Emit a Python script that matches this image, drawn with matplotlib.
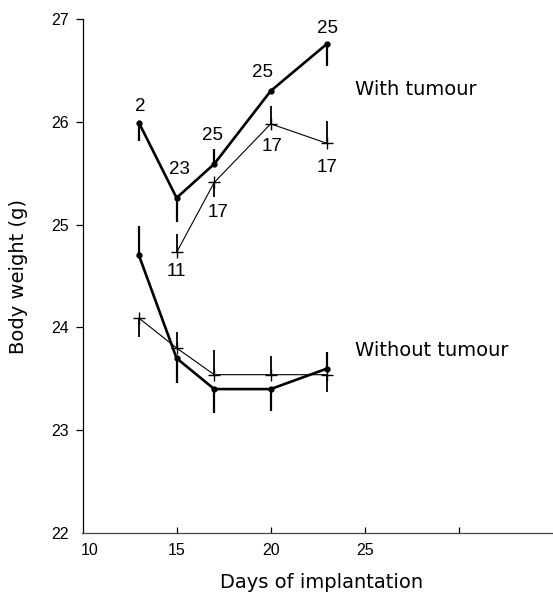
import matplotlib
matplotlib.use("Agg")
import matplotlib.pyplot as plt
from matplotlib.transforms import ScaledTranslation

# Days of implantation
days_with = [13, 15, 17, 20, 23]
days_thin_with = [15, 17, 20, 23]
days_without = [13, 15, 17, 20, 23]

# Body weight (g), thick line with dots
with_thick = [25.99, 25.26, 25.59, 26.30, 26.76]
with_thick_lo = [0.18, 0.23, 0.0, 0.0, 0.22]
with_thick_hi = [0.0, 0.0, 0.15, 0.0, 0.0]
with_thick_n = ["2", "23", "25", "25", "25"]

# Body weight (g), thin line with crosses
with_thin = [24.73, 25.41, 25.98, 25.79]
with_thin_lo = [0.0, 0.14, 0.0, 0.0]
with_thin_hi = [0.18, 0.0, 0.17, 0.22]
with_thin_n = ["11", "17", "17", "17"]

without_thick = [24.70, 23.70, 23.40, 23.40, 23.60]
without_thick_lo = [0.0, 0.24, 0.23, 0.21, 0.0]
without_thick_hi = [0.29, 0.0, 0.0, 0.0, 0.16]

without_thin = [24.09, 23.80, 23.54, 23.54, 23.54]
without_thin_lo = [0.18, 0.0, 0.0, 0.0, 0.17]
without_thin_hi = [0.0, 0.16, 0.24, 0.18, 0.0]

x_ticks = [10, 15, 20, 25, 30]
x_tick_labels = ["10", "15", "20", "25", ""]
y_ticks = [22, 23, 24, 25, 26, 27]

# label offsets in pixels (dx, dy)
with_thick_off = [(1, 16), (3, 28), (-2, 28), (-8, 18), (0, 15)]
with_thin_off = [(0, -19), (4, -30), (1, -23), (0, -24)]

NUM_FONT = ['Liberation Sans', 'DejaVu Sans']
WORD_FONT = ['DejaVu Sans']


def main():
    plt.rcParams['font.family'] = NUM_FONT

    fig = plt.figure(figsize=(5.53, 5.94), dpi=100)
    ax = fig.add_axes([82.5 / 553, 61 / 594, 470.5 / 553, 514 / 594])

    # thick lines
    ax.errorbar(days_with, with_thick, yerr=[with_thick_lo, with_thick_hi],
                color='black', lw=1.9, marker='o', ms=3.5, elinewidth=1.6,
                capsize=0)
    ax.errorbar(days_without, without_thick,
                yerr=[without_thick_lo, without_thick_hi],
                color='black', lw=1.9, marker='o', ms=3.5, elinewidth=1.6,
                capsize=0)

    # thin lines
    ax.errorbar(days_thin_with, with_thin, yerr=[with_thin_lo, with_thin_hi],
                color='black', lw=0.8, marker='+', ms=9, mew=1.0,
                elinewidth=1.3, capsize=0)
    ax.errorbar(days_without, without_thin,
                yerr=[without_thin_lo, without_thin_hi],
                color='black', lw=0.8, marker='+', ms=9, mew=1.0,
                elinewidth=1.3, capsize=0)

    # number of animals
    for d, v, n, off in zip(days_with, with_thick, with_thick_n, with_thick_off):
        ax.annotate(n, xy=(d, v), xytext=off, textcoords='offset pixels',
                    ha='center', va='center', fontsize=13.5)
    for d, v, n, off in zip(days_thin_with, with_thin, with_thin_n, with_thin_off):
        ax.annotate(n, xy=(d, v), xytext=off, textcoords='offset pixels',
                    ha='center', va='center', fontsize=13.5)

    ax.text(24.46, 26.31, "With tumour", fontsize=14, ha='left', va='center',
            family=WORD_FONT)
    ax.text(24.46, 23.78, "Without tumour", fontsize=14, ha='left', va='center',
            family=WORD_FONT)

    # axes
    ax.set_xlim(10, 35.0)
    ax.set_ylim(22, 27)
    ax.spines['top'].set_visible(False)
    ax.spines['right'].set_visible(False)
    ax.spines['left'].set_linewidth(0.9)
    ax.spines['bottom'].set_linewidth(0.9)
    ax.spines['bottom'].set_color('#444444')

    ax.set_xticks(x_ticks, x_tick_labels)
    ax.set_yticks(y_ticks)
    ax.tick_params(axis='x', direction='in', length=4, width=0.9, pad=7.5,
                   labelsize=11.5)
    ax.tick_params(axis='y', direction='out', length=5, width=0.9, pad=5,
                   labelsize=11.5)
    # no tick marks in the corner
    ax.yaxis.get_major_ticks()[0].tick1line.set_visible(False)
    ax.xaxis.get_major_ticks()[0].tick1line.set_visible(False)
    # first x label is set a little right of the corner
    lbl = ax.xaxis.get_major_ticks()[0].label1
    lbl.set_transform(lbl.get_transform() + ScaledTranslation(7 / 100, 0, fig.dpi_scale_trans))

    ax.set_xlabel("Days of implantation", fontsize=14, family=WORD_FONT, va='center')
    ax.xaxis.set_label_coords(0.508, -0.097)
    ax.set_ylabel("Body weight (g)", fontsize=14, family=WORD_FONT)
    ax.yaxis.set_label_coords(-0.115, 0.5)

    fig.savefig("out.png", dpi=100)


if __name__ == '__main__':
    main()
